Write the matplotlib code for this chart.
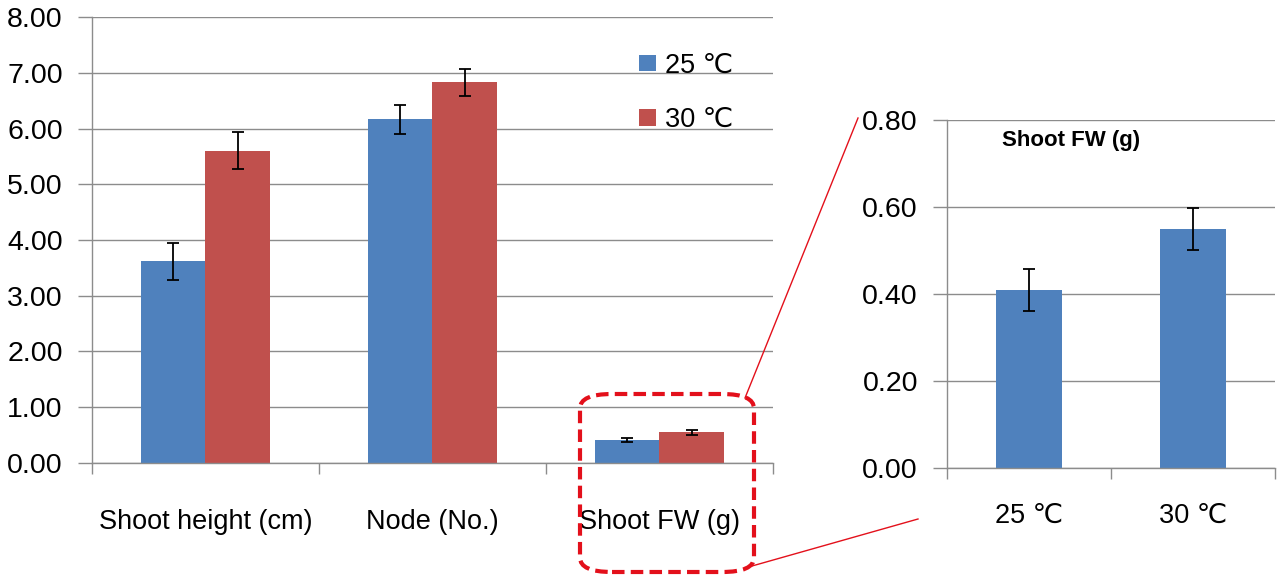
import numpy as np
import matplotlib
matplotlib.use('Agg')
import matplotlib.pyplot as plt
from matplotlib.patches import FancyBboxPatch
from matplotlib.lines import Line2D

plt.rcParams['font.family'] = ['Liberation Sans', 'DejaVu Sans']

categories = ['Shoot height (cm)', 'Node (No.)', 'Shoot FW (g)']
series_names = ['25 \u2103', '30 \u2103']
mean_25 = [3.62, 6.17, 0.41]
mean_30 = [5.60, 6.83, 0.55]
err_25 = [0.33, 0.26, 0.04]
err_30 = [0.33, 0.24, 0.04]

inset_labels = ['25 \u2103', '30 \u2103']
inset_mean = [0.41, 0.55]
inset_err = [0.048, 0.048]

blue = '#4F81BD'
red = '#C0504D'
grid_c = '#8c8c8c'

fig = plt.figure(figsize=(12.81, 5.77), dpi=100)

def style_axes(ax):
    for s in ['top', 'right']:
        ax.spines[s].set_visible(False)
    for s in ['left', 'bottom']:
        ax.spines[s].set_color(grid_c)
        ax.spines[s].set_linewidth(1.0)
    ax.yaxis.grid(True, color=grid_c, linewidth=1.0)
    ax.set_axisbelow(True)
    ax.tick_params(axis='y', length=10, width=1, color=grid_c, pad=11, labelsize=20.5)
    ax.tick_params(axis='x', which='major', length=0, labelsize=19.5)
    ax.tick_params(axis='x', which='minor', length=8, width=1, color=grid_c)

# main chart
ax = fig.add_axes([0.0718, 0.1976, 0.5316, 0.7729])
x = np.arange(len(categories))
w = 0.285
ekw = dict(elinewidth=1.3, capsize=4, capthick=1.3, ecolor='black')
ax.bar(x - w / 2, mean_25, w, yerr=err_25, color=blue, label=series_names[0], error_kw=ekw)
ax.bar(x + w / 2, mean_30, w, yerr=err_30, color=red, label=series_names[1], error_kw=ekw)
ax.set_xlim(-0.5, 2.5)
ax.set_ylim(0, 8)
ax.set_yticks(np.arange(0, 8.01, 1))
ax.set_yticklabels(['%.2f' % v for v in np.arange(0, 8.01, 1)])
ax.set_xticks(x)
ax.set_xticklabels(categories)
ax.set_xticks(np.arange(-0.5, 2.51, 1), minor=True)
style_axes(ax)
ax.tick_params(axis='x', which='major', pad=33)
leg = ax.legend(loc='upper left', bbox_to_anchor=(0.768, 0.975), frameon=False, fontsize=19.5,
                handlelength=0.6, handleheight=0.55, handletextpad=0.35, labelspacing=1.05)

# inset (zoom on Shoot FW)
ax2 = fig.add_axes([0.7393, 0.1889, 0.256, 0.6031])
xi = np.arange(len(inset_labels))
ax2.bar(xi, inset_mean, 0.4, yerr=inset_err, color=blue, error_kw=ekw)
ax2.set_xlim(-0.5, 1.5)
ax2.set_ylim(0, 0.8)
ax2.set_yticks(np.arange(0, 0.81, 0.2))
ax2.set_yticklabels(['%.2f' % v for v in np.arange(0, 0.81, 0.2)])
ax2.set_xticks(xi)
ax2.set_xticklabels(inset_labels)
ax2.set_xticks([-0.5, 0.5, 1.5], minor=True)
style_axes(ax2)
ax2.tick_params(axis='x', which='major', pad=25)
ax2.text(0.377, 0.94, 'Shoot FW (g)', transform=ax2.transAxes, ha='center', va='center',
         fontsize=16, fontweight='bold')

# dashed highlight box and connector lines (figure pixels -> fraction)
W, H = 1281, 577
box = FancyBboxPatch((580 / W, 1 - 572 / H), 174 / W, 178 / H,
                     boxstyle='round,pad=0,rounding_size=0.025', transform=fig.transFigure,
                     fill=False, edgecolor='#e3101b', linewidth=3, linestyle=(0, (3, 1.5)))
fig.patches.append(box)
fig.lines.append(Line2D([745 / W, 858 / W], [1 - 398 / H, 1 - 118 / H], transform=fig.transFigure,
                        color='#e3101b', linewidth=1))
fig.lines.append(Line2D([752 / W, 918 / W], [1 - 566 / H, 1 - 519 / H], transform=fig.transFigure,
                        color='#e3101b', linewidth=1))

fig.savefig('out.png', dpi=100)
